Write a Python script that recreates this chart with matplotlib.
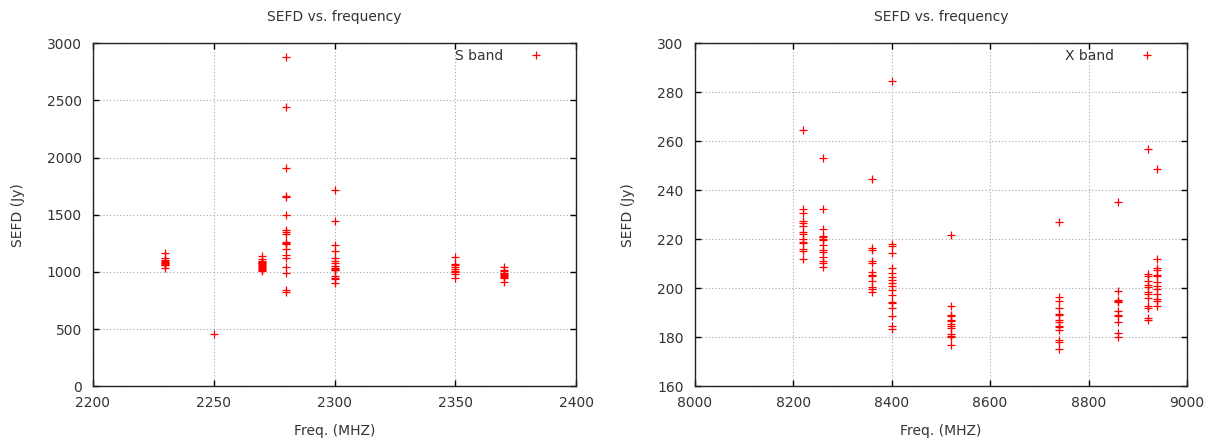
import numpy as np
import matplotlib
matplotlib.use("Agg")
import matplotlib.pyplot as plt

# S band measurements (MHz -> Jy)
s_freqs = [2230, 2250, 2270, 2280, 2300, 2350, 2370]
s_sefd = [
    [1164, 1126, 1108, 1100, 1090, 1082, 1076, 1070, 1064, 1058, 1035],
    [456],
    [1136, 1110, 1100, 1090, 1082, 1075, 1068, 1060, 1052, 1045, 1038, 1030, 1020, 1010],
    [2877, 2444, 1906, 1668, 1660, 1500, 1371, 1350, 1333, 1263, 1250, 1246, 1204,
     1145, 1122, 1040, 991, 844, 829],
    [1713, 1450, 1239, 1187, 1123, 1099, 1079, 1050, 1035, 1029, 1020, 1014, 961, 950, 939, 904],
    [1129, 1070, 1058, 1044, 1029, 1010, 1000, 985, 947],
    [1044, 1020, 1006, 995, 985, 975, 965, 955, 947, 912],
]

# X band measurements
x_freqs = [8220, 8260, 8360, 8400, 8520, 8740, 8860, 8920, 8940]
x_sefd = [
    [264.5, 232.3, 230.9, 227.3, 226.5, 225.5, 222.8, 222.1, 220.0, 219.1, 218.3, 216.0, 215.3, 211.9],
    [253.3, 232.3, 224.4, 221.4, 220.8, 220.2, 219.8, 217.6, 215.7, 214.9, 212.9, 211.0, 210.2, 208.5],
    [244.5, 216.4, 215.7, 211.0, 210.2, 206.5, 205.6, 204.9, 202.8, 200.4, 199.7, 198.4],
    [284.8, 218.0, 217.4, 214.4, 208.1, 206.2, 204.5, 203.5, 202.0, 201.1, 199.3, 197.3,
     194.6, 194.0, 191.9, 188.6, 184.8, 183.4],
    [221.7, 192.9, 189.1, 188.5, 187.2, 186.6, 185.5, 184.8, 183.9, 181.4, 180.7, 180.1, 176.7],
    [227.1, 196.3, 195.0, 191.9, 189.6, 188.9, 187.1, 186.4, 184.8, 184.1, 182.8, 178.7, 178.0, 175.3],
    [235.4, 199.1, 195.4, 194.9, 194.6, 190.9, 189.3, 188.6, 186.4, 181.7, 180.1],
    [256.7, 205.8, 204.9, 202.8, 201.4, 200.4, 198.6, 197.7, 195.9, 192.7, 192.0, 187.8, 187.2],
    [248.8, 211.9, 208.1, 207.6, 205.4, 204.9, 202.4, 201.1, 199.7, 197.7, 195.7, 195.0, 192.9],
]

s_xticks = [2200, 2250, 2300, 2350, 2400]
s_yticks = [0, 500, 1000, 1500, 2000, 2500, 3000]
x_xticks = [8000, 8200, 8400, 8600, 8800, 9000]
x_yticks = [160, 180, 200, 220, 240, 260, 280, 300]

TEXT = "#333333"
plt.rcParams["font.family"] = ["DejaVu Sans"]
plt.rcParams["font.size"] = 10


def flatten(freqs, groups):
    f = np.repeat(freqs, [len(g) for g in groups])
    v = np.concatenate([np.array(g, dtype=float) for g in groups])
    return f, v


def draw(ax, freqs, groups, label, xticks, yticks):
    f, v = flatten(freqs, groups)
    ax.plot(f, v, "+", color="red", markersize=6, markeredgewidth=0.9,
            linestyle="none", label=label)
    ax.set_xlim(xticks[0], xticks[-1])
    ax.set_ylim(yticks[0], yticks[-1])
    ax.set_xticks(xticks)
    ax.set_yticks(yticks)
    ax.grid(True, color="#a8a8a8", linestyle=(0, (1, 2)), linewidth=0.8)
    ax.tick_params(direction="in", length=4, width=1, top=True, right=True,
                   labelcolor=TEXT, labelsize=10)
    ax.tick_params(axis="x", pad=7)
    ax.tick_params(axis="y", pad=8)
    for sp in ax.spines.values():
        sp.set_color("#222222")
        sp.set_linewidth(1)
    ax.set_title("SEFD vs. frequency", color=TEXT, fontsize=10, pad=16)
    ax.set_xlabel("Freq. (MHZ)", color=TEXT, labelpad=10)
    ax.set_ylabel("SEFD (Jy)", color=TEXT, labelpad=16)
    leg = ax.legend(loc="upper right", bbox_to_anchor=(0.958, 1.0), borderaxespad=0,
                    frameon=False, markerfirst=False, handlelength=2, handletextpad=1.4,
                    fontsize=10)
    for t in leg.get_texts():
        t.set_color(TEXT)


fig = plt.figure(figsize=(12.1, 4.42), dpi=100)
ax1 = fig.add_axes([93 / 1210, 1 - 386.3 / 442, (576 - 93) / 1210, (386.3 - 43.3) / 442])
ax2 = fig.add_axes([694.7 / 1210, 1 - 386.3 / 442, (1187 - 694.7) / 1210, (386.3 - 43.3) / 442])

draw(ax1, s_freqs, s_sefd, "S band", s_xticks, s_yticks)
draw(ax2, x_freqs, x_sefd, "X band", x_xticks, x_yticks)

fig.savefig("out.png", dpi=100)
